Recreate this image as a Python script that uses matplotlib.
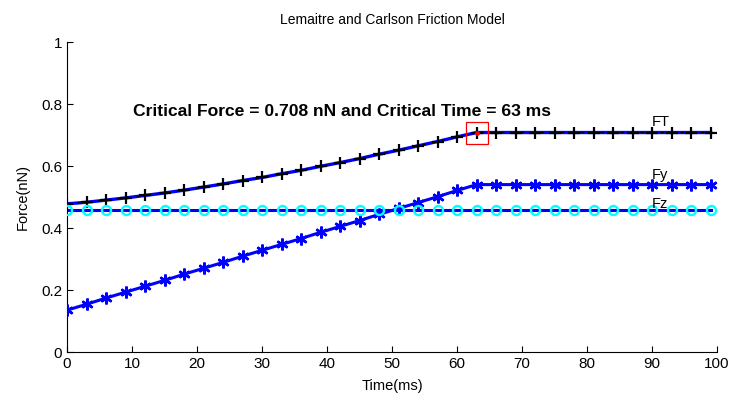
import matplotlib
matplotlib.use('Agg')
import matplotlib.pyplot as plt

plt.rcParams['font.family'] = ['Liberation Sans', 'DejaVu Sans']

# data, samples every 3 ms
t = [0, 3, 6, 9, 12, 15, 18, 21, 24, 27, 30, 33, 36, 39, 42, 45, 48, 51,
     54, 57, 60, 63, 66, 69, 72, 75, 78, 81, 84, 87, 90, 93, 96, 99]
Fy = [0.135, 0.154, 0.174, 0.193, 0.212, 0.231, 0.251, 0.270, 0.289, 0.309,
      0.328, 0.347, 0.366, 0.386, 0.405, 0.424, 0.444, 0.463, 0.482, 0.501,
      0.521, 0.540, 0.540, 0.540, 0.540, 0.540, 0.540, 0.540, 0.540, 0.540,
      0.540, 0.540, 0.540, 0.540]
Fz = [0.458] * 34
FT = [0.478, 0.483, 0.490, 0.497, 0.505, 0.513, 0.522, 0.532, 0.542, 0.553,
      0.563, 0.575, 0.586, 0.599, 0.611, 0.624, 0.638, 0.651, 0.665, 0.679,
      0.694, 0.708, 0.708, 0.708, 0.708, 0.708, 0.708, 0.708, 0.708, 0.708,
      0.708, 0.708, 0.708, 0.708]
crit_t = 63
crit_f = 0.708

fig = plt.figure(figsize=(7.34, 4), dpi=100)
ax = fig.add_axes([0.0913, 0.12, 0.8857, 0.775])

# FT
ax.plot(t, FT, color='blue', lw=2.4, zorder=2)
ax.plot(t, FT, color='black', lw=0.9, ls=(0, (3, 5)), zorder=3)
ax.plot(t, FT, ls='none', color='black', marker='+', ms=8, mew=1.6, zorder=3)
# Fy
ax.plot(t, Fy, color='blue', lw=2.2, zorder=2)
ax.plot(t, Fy, ls='none', color='blue', marker=(6, 2, 0), ms=8.5, mew=1.8, zorder=3)
# Fz
ax.plot(t, Fz, color='blue', lw=2.2, zorder=2)
ax.plot(t, Fz, ls='none', marker='o', ms=6.5, mfc='none', mec='cyan', mew=1.7, zorder=3)

# critical point
ax.plot([crit_t], [crit_f], marker='s', ms=16, mfc='none', mec='red', mew=0.9, zorder=4)
ax.plot([crit_t], [crit_f], marker='.', ms=5, color='red', zorder=5)

ax.text(10.2, 0.777, 'Critical Force = %.3f nN and Critical Time = %d ms' % (crit_f, crit_t),
        fontsize=12.6, fontweight='bold', va='center', ha='left')
ax.text(90, 0.742, 'FT', fontsize=10.5, va='center')
ax.text(90, 0.572, 'Fy', fontsize=10.5, va='center')
ax.text(90, 0.478, 'Fz', fontsize=10.5, va='center')

ax.set_xlim(0, 100)
ax.set_ylim(0, 1)
ax.set_xticks(range(0, 101, 10))
ax.set_yticks([0, 0.2, 0.4, 0.6, 0.8, 1])
ax.set_yticklabels(['0', '0.2', '0.4', '0.6', '0.8', '1'])
ax.tick_params(direction='in', length=4, labelsize=11)
ax.spines['top'].set_visible(False)
ax.spines['right'].set_visible(False)

ax.set_title('Lemaitre and Carlson Friction Model', fontsize=10, pad=13)
ax.set_xlabel('Time(ms)', fontsize=10.5, labelpad=6)
ax.set_ylabel('Force(nN)', fontsize=10.5, labelpad=8)

fig.savefig('out.png', dpi=100)
